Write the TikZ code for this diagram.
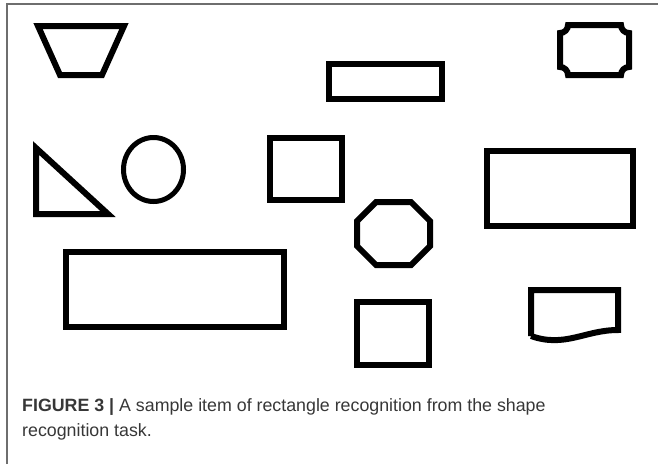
\documentclass[tikz,border=0pt]{standalone}
\usepackage{fontspec}
\setmainfont{Liberation Sans}
\usepackage{tikz}
\usetikzlibrary{calc, positioning}

\definecolor{framegray}{RGB}{110,110,110}
\definecolor{captext}{RGB}{55,55,55}

\tikzset{
  outline/.style={draw=black, line width=6pt, line join=miter, fill=none},
}

\begin{document}
\begin{tikzpicture}[x=1pt, y=-1pt]
      \useasboundingbox (0,0) rectangle (658,464);
      %
      \draw[color=framegray, line width=1.2pt] (7,464) -- (7,4) -- (658,4);
      %
      % top row
      \draw[outline] (38,26) -- (124,26) -- (102,75) -- (60,75) -- cycle;
      \draw[outline] (329,64) rectangle (442,99);
      \draw[outline] (568,25) -- (621,25) arc[start angle=180, end angle=270, radius=8pt]
                     -- (629,67) arc[start angle=90, end angle=180, radius=8pt]
                     -- (568,75) arc[start angle=0, end angle=90, radius=8pt]
                     -- (560,33) arc[start angle=270, end angle=360, radius=8pt] -- cycle;
      %
      % middle row
      \draw[outline] (36,148) -- (36,214) -- (108,214) -- cycle;
      \draw[outline, line width=5pt] (153.5,169.5) ellipse[x radius=30, y radius=32];
      \draw[outline] (270,138) rectangle (342,200);
      \draw[outline] (376,202) -- (411,202) -- (430,221) -- (430,246) -- (411,265)
                     -- (376,265) -- (357,246) -- (357,221) -- cycle;
      \draw[outline] (487,151) rectangle (633,226);
      %
      % bottom row
      \draw[outline] (66,252) rectangle (284,327);
      \draw[outline] (357,302) rectangle (429,365);
      \draw[outline] (531,336) -- (531,290) -- (618,290) -- (618,330)
                     .. controls (585,330) and (565,348) .. (531,336);
      %
      \node[anchor=base west, align=left, text=captext, inner sep=0pt,
            font=\fontsize{17.8}{25}\selectfont] (caption) at (22,436)
            {\textbf{FIGURE 3 |} A sample item of rectangle recognition from the shape\\recognition task.};
    \end{tikzpicture}
\end{document}
